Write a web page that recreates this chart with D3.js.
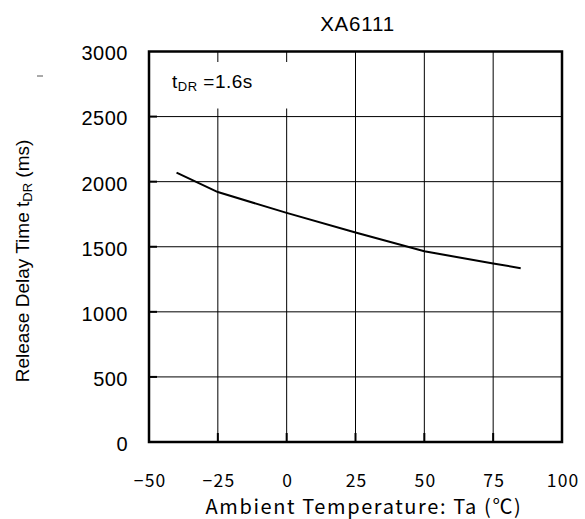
<!DOCTYPE html>
<html>
<head>
<meta charset="utf-8">
<script src="https://cdn.jsdelivr.net/npm/d3@7"></script>
<style>
  body { margin: 0; background: #fff; }
</style>
</head>
<body>
<div class="chart"></div>
<script>
// data
var temps = [-40, -25, 0, 25, 50, 75, 85];
var delays = [2070, 1920, 1760, 1610, 1465, 1372, 1335];
var xTicks = [-50, -25, 0, 25, 50, 75, 100];
var yTicks = [0, 500, 1000, 1500, 2000, 2500, 3000];

var margin = {top: 51.5, right: 23, bottom: 77, left: 149},
  width = 585 - margin.left - margin.right,
  height = 519 - margin.top - margin.bottom;

var svgRoot = d3.select(".chart")
  .append("svg")
  .attr("width", 585)
  .attr("height", 519);

var svg = svgRoot.append("g")
  .attr("transform", "translate(" + margin.left + "," + margin.top + ")");

var x = d3.scaleLinear().domain([-50, 100]).range([0, width]);
var y = d3.scaleLinear().domain([0, 3000]).range([height, 0]);

// grid
svg.selectAll(".vgrid")
  .data(xTicks.slice(1, -1))
  .enter().append("line")
  .attr("x1", function(d) { return x(d); })
  .attr("x2", function(d) { return x(d); })
  .attr("y1", 0).attr("y2", height)
  .attr("stroke", "#000").attr("stroke-width", 1);

svg.selectAll(".hgrid")
  .data(yTicks.slice(1, -1))
  .enter().append("line")
  .attr("x1", 0).attr("x2", width)
  .attr("y1", function(d) { return y(d); })
  .attr("y2", function(d) { return y(d); })
  .attr("stroke", "#000").attr("stroke-width", 1);

// white box behind the note
svg.append("rect")
  .attr("x", 1).attr("y", 10.5)
  .attr("width", 150).attr("height", 46.5)
  .attr("fill", "#fff");

// tick stubs inside the frame
svg.selectAll(".xstub")
  .data(xTicks.slice(1, -1))
  .enter().append("line")
  .attr("x1", function(d) { return x(d); })
  .attr("x2", function(d) { return x(d); })
  .attr("y1", height).attr("y2", height - 9)
  .attr("stroke", "#000").attr("stroke-width", 2);

svg.selectAll(".ystub")
  .data(yTicks.slice(1, -1))
  .enter().append("line")
  .attr("x1", 0).attr("x2", 8)
  .attr("y1", function(d) { return y(d); })
  .attr("y2", function(d) { return y(d); })
  .attr("stroke", "#000").attr("stroke-width", 2);

// frame
svg.append("rect")
  .attr("width", width).attr("height", height)
  .attr("fill", "none")
  .attr("stroke", "#000").attr("stroke-width", 2.5);

// curve
var line = d3.line()
  .x(function(d, i) { return x(temps[i]); })
  .y(function(d) { return y(d); });

svg.append("path")
  .datum(delays)
  .attr("d", line)
  .attr("fill", "none")
  .attr("stroke", "#000")
  .attr("stroke-width", 2);

// axes (labels only)
var xAxis = svg.append("g")
  .attr("transform", "translate(0," + height + ")")
  .call(d3.axisBottom(x).tickValues(xTicks).tickSize(0).tickPadding(33));
xAxis.select(".domain").remove();
xAxis.selectAll("text")
  .attr("dx", "0.6px")
  .style("font-family", "'Noto Sans CJK JP', sans-serif")
  .style("font-size", "17.5px")
  .style("letter-spacing", "1.2px")
  .attr("fill", "#000");

var yAxis = svg.append("g")
  .call(d3.axisLeft(y).tickValues(yTicks).tickSize(0).tickPadding(21).tickFormat(d3.format("d")));
yAxis.select(".domain").remove();
yAxis.selectAll("text")
  .attr("dy", "0.42em")
  .style("font-family", "'Liberation Sans', Arial, sans-serif")
  .style("font-size", "20px")
  .style("letter-spacing", "0.5px")
  .attr("fill", "#000");

// title
svgRoot.append("text")
  .attr("x", 357.5).attr("y", 31)
  .attr("text-anchor", "middle")
  .style("font-family", "'Liberation Sans', Arial, sans-serif")
  .style("font-size", "20.5px")
  .style("letter-spacing", "0.8px")
  .text("XA6111");

// note
var note = svgRoot.append("text")
  .attr("x", 172).attr("y", 88)
  .style("font-family", "'Liberation Sans', Arial, sans-serif")
  .style("font-size", "19px")
  .style("letter-spacing", "0.5px");
note.append("tspan").text("t");
note.append("tspan").attr("dy", 3).style("font-size", "13px").text("DR");
note.append("tspan").attr("dy", -3).text(" =1.6s");

// y label
var yl = svgRoot.append("text")
  .attr("transform", "translate(29,261) rotate(-90)")
  .attr("text-anchor", "middle")
  .style("font-family", "'Liberation Sans', Arial, sans-serif")
  .style("font-size", "19px");
yl.append("tspan").text("Release Delay Time t");
yl.append("tspan").attr("dy", 3).style("font-size", "13px").text("DR");
yl.append("tspan").attr("dy", -3).text(" (ms)");

// x label
svgRoot.append("text")
  .attr("x", 364).attr("y", 514)
  .attr("text-anchor", "middle")
  .style("font-family", "'Noto Sans CJK JP', sans-serif")
  .style("font-size", "20px")
  .style("letter-spacing", "1.6px")
  .text("Ambient Temperature: Ta (℃)");

// stray mark left of the axis
svgRoot.append("line")
  .attr("x1", 37).attr("x2", 43)
  .attr("y1", 76).attr("y2", 76)
  .attr("stroke", "#555").attr("stroke-width", 1);
</script>
</body>
</html>
